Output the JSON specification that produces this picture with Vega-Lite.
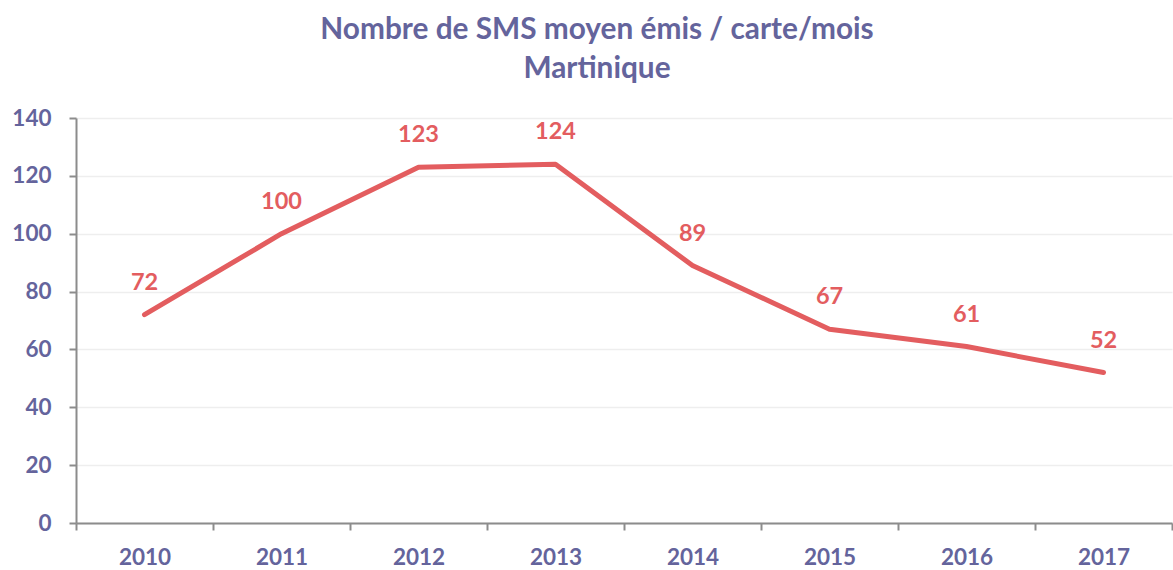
{
  "$schema": "https://vega.github.io/schema/vega-lite/v6.json",
  "autosize": "none",
  "width": 1096,
  "height": 405,
  "padding": {"left": 76, "top": 118, "right": 1, "bottom": 47},
  "background": "white",
  "config": {"view": {"stroke": null}, "font": "Lato"},
  "title": {
    "text": ["Nombre de SMS moyen émis / carte/mois", "Martinique"],
    "color": "#64649C",
    "font": "Lato",
    "fontWeight": "bold",
    "fontSize": 29.8,
    "lineHeight": 39,
    "anchor": "middle",
    "dx": -27,
    "offset": 23
  },
  "data": {
    "values": [
      {"year": "2010", "value": 72},
      {"year": "2011", "value": 100},
      {"year": "2012", "value": 123},
      {"year": "2013", "value": 124},
      {"year": "2014", "value": 89},
      {"year": "2015", "value": 67},
      {"year": "2016", "value": 61},
      {"year": "2017", "value": 52}
    ]
  },
  "encoding": {
    "x": {
      "field": "year",
      "type": "ordinal",
      "title": null,
      "scale": {"type": "band", "paddingInner": 0, "paddingOuter": 0},
      "axis": {
        "labelAngle": 0,
        "labelColor": "#64649C",
        "labelFont": "Lato",
        "labelFontWeight": "bold",
        "labelFontSize": 22.5,
        "labelPadding": 16,
        "domainColor": "#8C8C8C",
        "domainWidth": 2,
        "tickColor": "#8C8C8C",
        "tickWidth": 2,
        "tickSize": 7,
        "tickBand": "extent",
        "grid": false
      }
    },
    "y": {
      "field": "value",
      "type": "quantitative",
      "title": null,
      "scale": {"domain": [0, 140], "nice": false},
      "axis": {
        "values": [0, 20, 40, 60, 80, 100, 120, 140],
        "labelColor": "#64649C",
        "labelFont": "Lato",
        "labelFontWeight": "bold",
        "labelFontSize": 22.5,
        "labelPadding": 18,
        "domainColor": "#8C8C8C",
        "domainWidth": 2,
        "tickColor": "#8C8C8C",
        "tickWidth": 2,
        "tickSize": 7,
        "grid": true,
        "gridColor": "#EEEEEE",
        "gridWidth": 1.5
      }
    }
  },
  "layer": [
    {
      "mark": {"type": "line", "color": "#E35D5F", "strokeWidth": 5, "strokeCap": "round", "strokeJoin": "round"}
    },
    {
      "mark": {"type": "text", "color": "#E35D5F", "font": "Lato", "fontWeight": "bold", "fontSize": 23.5, "dy": -32},
      "encoding": {"text": {"field": "value", "type": "quantitative"}}
    }
  ]
}
